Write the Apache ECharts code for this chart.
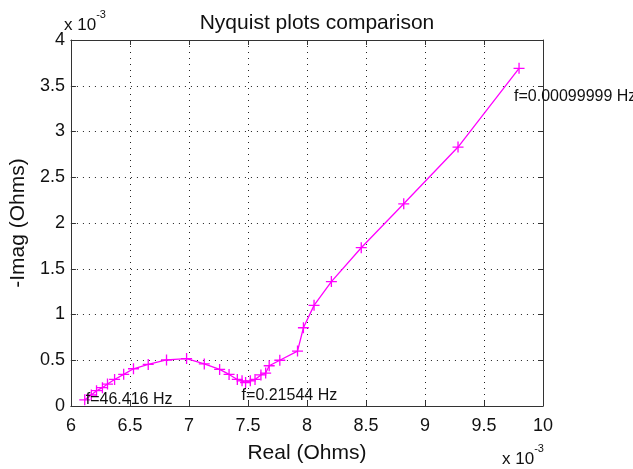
<!DOCTYPE html>
<html>
<head>
<meta charset="utf-8">
<script src="https://cdn.jsdelivr.net/npm/echarts@6/dist/echarts.min.js"></script>
<style>
  html, body { margin: 0; padding: 0; background: #fff; }
  #chart { width: 633px; height: 469px; }
</style>
</head>
<body>
<div id="chart"></div>
<script>
(function() {
  // values in units of 1e-3 Ohm
  var realOhms = [6.117, 6.173, 6.217, 6.267, 6.31, 6.37, 6.447, 6.53, 6.655, 6.81,
    6.98, 7.13, 7.26, 7.34, 7.41, 7.45, 7.48, 7.52, 7.56, 7.61,
    7.65, 7.68, 7.77, 7.92, 7.97, 8.06, 8.207, 8.46, 8.82, 9.28, 9.797];
  var negImag = [0.067, 0.12, 0.167, 0.20, 0.24, 0.29, 0.346, 0.407, 0.454, 0.503,
    0.518, 0.46, 0.40, 0.345, 0.29, 0.275, 0.257, 0.275, 0.29, 0.34,
    0.36, 0.44, 0.50, 0.60, 0.855, 1.10, 1.36, 1.73, 2.21, 2.83, 3.69];
  var freqLabels = ['f=46.416 Hz', 'f=0.21544 Hz', 'f=0.00099999 Hz'];
  var labelIdx = [0, 16, 30];

  var font = "'Liberation Sans', Arial, Helvetica, sans-serif";
  var magenta = '#ff00ff';
  var axisCol = '#333';

  var points = realOhms.map(function(x, i) { return [x, negImag[i]]; });

  var labelOffsets = [[1, 0], [-4, 13], [-5, 28]];
  var marks = labelIdx.map(function(idx, k) {
    return {
      coord: points[idx],
      symbolSize: 0,
      label: {
        show: true,
        formatter: freqLabels[k],
        position: labelOffsets[k],
        align: 'left',
        verticalAlign: 'middle',
        color: '#111',
        fontSize: 16,
        fontFamily: font
      }
    };
  });

  function xAx(pos, show) {
    return {
      type: 'value', position: pos, min: 6, max: 10, interval: 0.5,
      name: show ? 'Real (Ohms)' : '', nameLocation: 'middle', nameGap: 37,
      nameTextStyle: { color: '#111', fontSize: 21, fontFamily: font },
      axisLine: { show: true, onZero: false, lineStyle: { color: axisCol, width: 1 } },
      axisTick: { show: true, inside: true, length: 5, lineStyle: { color: axisCol } },
      axisLabel: { show: show, color: '#111', fontSize: 18, fontFamily: font, margin: 11 },
      splitLine: { show: show, lineStyle: { color: '#222', type: [1, 5], width: 1 } }
    };
  }
  function yAx(pos, show) {
    return {
      type: 'value', position: pos, min: 0, max: 4, interval: 0.5,
      name: show ? '-Imag (Ohms)' : '', nameLocation: 'middle', nameGap: 34,
      nameTextStyle: { color: '#111', fontSize: 21, fontFamily: font },
      axisLine: { show: true, onZero: false, lineStyle: { color: axisCol, width: 1 } },
      axisTick: { show: true, inside: true, length: 5, lineStyle: { color: axisCol } },
      axisLabel: { show: show, color: '#111', fontSize: 18, fontFamily: font, margin: 6 },
      splitLine: { show: show, lineStyle: { color: '#222', type: [1, 5], width: 1 } }
    };
  }

  var chart = echarts.init(document.getElementById('chart'), null, { renderer: 'canvas' });
  chart.setOption({
    backgroundColor: '#fff',
    animation: false,
    title: {
      text: 'Nyquist plots comparison',
      left: 312, top: 8, textAlign: 'center',
      textStyle: { color: '#111', fontSize: 21, fontWeight: 'normal', fontFamily: font }
    },
    grid: { left: 63, right: 90, top: 40, bottom: 57 },
    xAxis: [xAx('bottom', true), xAx('top', false)],
    yAxis: [yAx('left', true), yAx('right', false)],
    graphic: [
      {
        type: 'text', left: 64, top: 9,
        style: {
          text: '{b|x 10}{s|-3}', fill: '#111', font: '17px ' + font,
          rich: {
            b: { fontSize: 17, fontFamily: font, fill: '#111', padding: [8, 0, 0, 0] },
            s: { fontSize: 11, fontFamily: font, fill: '#111', verticalAlign: 'top' }
          }
        }
      },
      {
        type: 'text', left: 502, top: 443,
        style: {
          text: '{b|x 10}{s|-3}', fill: '#111', font: '17px ' + font,
          rich: {
            b: { fontSize: 17, fontFamily: font, fill: '#111', padding: [8, 0, 0, 0] },
            s: { fontSize: 11, fontFamily: font, fill: '#111', verticalAlign: 'top' }
          }
        }
      }
    ],
    series: [{
      type: 'line',
      data: points,
      symbol: 'path://M0,5 L10,5 M5,0 L5,10',
      symbolSize: 11,
      showAllSymbol: true,
      lineStyle: { color: magenta, width: 1.3 },
      itemStyle: { color: magenta, borderColor: magenta, borderWidth: 1.3 },
      markPoint: { symbol: 'circle', symbolSize: 0, data: marks, animation: false }
    }]
  });

  window.addEventListener('resize', function() { chart.resize(); });
})();
</script>
</body>
</html>
